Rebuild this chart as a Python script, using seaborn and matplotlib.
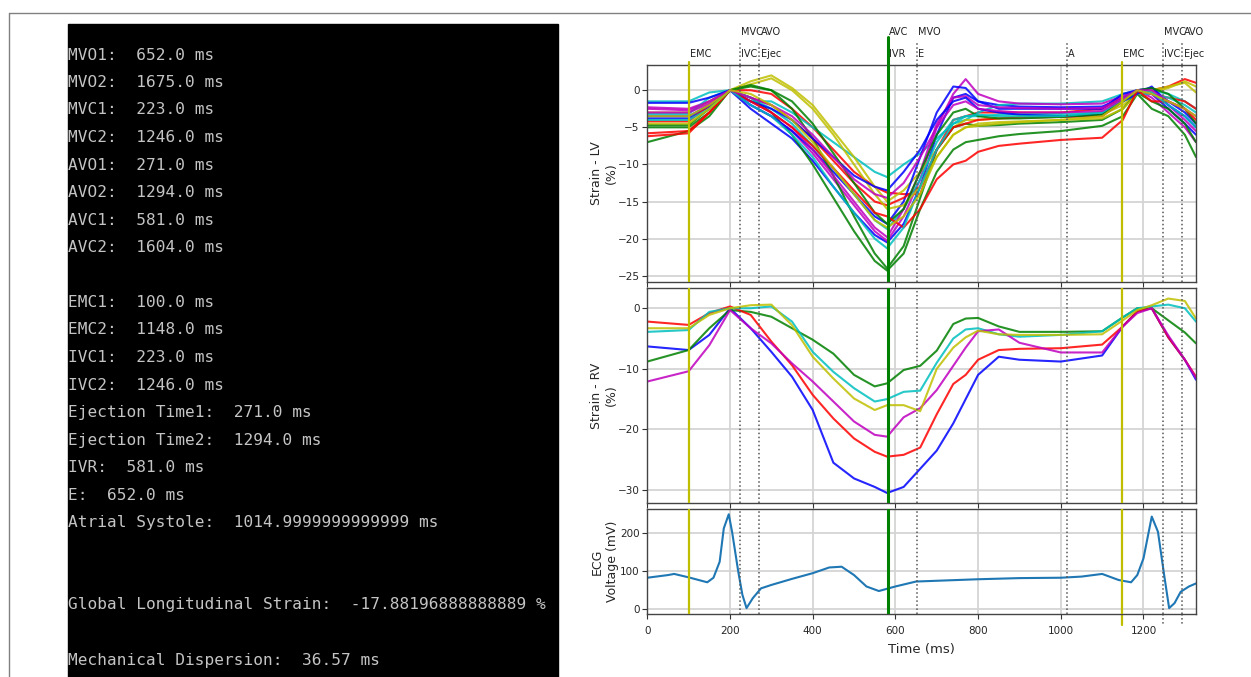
import pandas as pd
import seaborn as sns
import matplotlib.pyplot as plt
from matplotlib.lines import Line2D
from matplotlib.patches import Rectangle
import matplotlib.transforms as mtransforms

# Zeitpunkte der Strain-Kurven (ms)
t_strain = [0, 100, 150, 200, 250, 300, 350, 400, 450, 500, 550, 580, 620, 660,
            700, 740, 770, 800, 850, 900, 1000, 1100, 1150, 1185, 1220, 1260, 1300, 1327]

# LV-Segmente (%)
lv_b1 = [-3.8, -3.8, -2.2, 0, -2.5, -4.5, -6.5, -9.5, -13, -16.5, -19.5, -20.5, -18, -13,
         -6, -1, -0.5, -1.5, -2, -2.2, -2.3, -2.2, -1, 0, -0.5, -2.5, -4.5, -6]
lv_g1 = [-7, -5.5, -3.5, 0, -1, -3, -6, -10, -14.5, -19, -23, -24.3, -22, -16,
         -11, -8, -7, -6.7, -6.2, -5.9, -5.5, -4.8, -3.5, -0.5, -2.5, -3.5, -6, -9]
lv_r1 = [-4.2, -4.2, -2, 0, 0, -0.5, -2.5, -5, -8, -11, -13, -13.8, -14, -14,
         -8, -4, -3.5, -3, -3, -3, -3, -2.5, -1, 0, 0, 0.5, 1.5, 1]
lv_c1 = [-1.5, -1.5, -0.3, 0, -1.5, -1.5, -3, -5, -7, -9, -11, -11.7, -10, -8.5,
         -6.5, -4.5, -4, -3, -2, -1.8, -1.8, -1.5, -0.5, 0, 0, -0.5, -1.5, -2.5]
lv_m1 = [-2.3, -2.5, -1.5, 0, -2, -3.5, -5.5, -8.5, -12, -15.5, -19, -20.3, -17, -12,
         -5, -0.5, 1.5, -0.5, -1.5, -1.8, -1.9, -1.8, -0.8, 0, -1, -3, -5, -7]
lv_y1 = [-3, -3, -1.5, 0, 1.2, 2, 0.3, -2, -5.5, -9, -13, -15, -13.5, -11,
         -8, -5, -4, -4, -3.8, -3.5, -3.5, -3.3, -2, -0.5, -0.3, 0.3, 1.2, 0.5]
lv_b2 = [-3.5, -3.5, -2, 0, -2, -3.5, -5.5, -8, -11, -14, -17, -18, -15, -9,
         -3, 0.5, 0.3, -1.5, -2.5, -2.5, -2.5, -2.5, -0.5, 0, 0.3, -1.5, -3, -4.5]
lv_g2 = [-5, -5, -3, 0, 0.5, 0, -2.5, -6.5, -11.5, -17, -22, -24, -21, -14.5,
         -8, -5, -4.5, -4.8, -4.7, -4.5, -4.3, -4, -2.5, -0.3, -1.5, -2.5, -4.5, -7]
lv_r2 = [-5.8, -5.5, -3, 0, -1, -2, -4, -6.5, -9.5, -12.5, -15, -15.5, -14.5, -13,
         -8, -5, -4.5, -4, -3.8, -3.7, -3.6, -3.5, -1.5, 0, -0.5, -1, -1.5, -2.5]
lv_c2 = [-3.2, -3.2, -1, 0, -1, -2.5, -4.5, -7.5, -10.5, -14, -17.5, -18.7, -16, -12,
         -7, -4, -3.5, -3.5, -3.3, -3.2, -3.2, -3, -1.5, -0.5, -0.5, -1, -2, -3]
lv_m2 = [-3, -3, -1.8, 0, -1.5, -3, -5, -8, -11.5, -15, -18.5, -19.8, -16, -11,
         -4.5, -1, -0.8, -2, -2.3, -2.4, -2.5, -2.4, -1, 0, -0.5, -2, -4, -5.5]
lv_y2 = [-3.5, -3.5, -2, 0, 0.8, 1.6, 0, -2.5, -6, -10, -14, -16, -15.5, -13,
         -9, -6, -5, -4.5, -4.3, -4.2, -4, -3.8, -2.5, -0.5, 0, 0.5, 1, -0.3]
lv_b3 = [-1.7, -1.7, -1, 0, -1.5, -2.5, -4, -6.5, -9, -11.5, -13, -13.5, -11, -8,
         -4, -1.5, -1, -2.5, -3, -3.3, -3.5, -3.3, -1.5, -0.5, 0.5, -2, -3.5, -5]
lv_g3 = [-4.7, -4.7, -2.5, 0, 0.7, 0, -1.5, -4.5, -8.5, -12.5, -16.5, -18, -16, -11,
         -6, -3, -2.5, -3.5, -3.8, -3.8, -3.6, -3.3, -1.5, 0, 0.3, -0.5, -2.5, -4.5]
lv_r3 = [-6.2, -5.8, -3, 0, -1.5, -3, -5, -7.5, -10.5, -13.5, -16.5, -17, -18.5, -16,
         -12, -10, -9.5, -8.3, -7.5, -7.2, -6.7, -6.4, -4, 0, -1.5, -1.5, -2.5, -4]
lv_c3 = [-4, -4, -2.5, 0, -2, -3.5, -6, -9, -13, -16.5, -20, -21.3, -18.5, -13,
         -8, -4.5, -3.5, -3.3, -3.5, -3.5, -3.5, -3, -1.2, 0, -0.3, -2, -3.5, -5]
lv_m3 = [-2.5, -2.7, -1.5, 0, -1, -2, -3.5, -6, -9, -12, -14, -14.5, -12.5, -9,
         -5, -2, -1.5, -2.5, -2.8, -3, -3, -2.8, -1.2, 0, 0, -1.5, -2.5, -3.5]
lv_y3 = [-4.5, -4.5, -2.5, 0, -0.5, -2, -4, -7, -10.5, -14, -17.5, -18.5, -17, -14,
         -9, -6, -5, -4.8, -4.5, -4.3, -4, -3.5, -1.5, 0, -0.5, -1.5, -2.5, -3.5]

# RV-Segmente (%)
rv_b = [-6.3, -6.9, -4.4, 0, -3.3, -7.2, -11.3, -16.8, -25.5, -28.1, -29.5, -30.5, -29.5, -26.5,
        -23.5, -19, -15, -11, -8, -8.5, -8.8, -7.8, -3, -0.5, 0, -4.8, -8.5, -11.8]
rv_g = [-8.8, -6.9, -3.3, -0.3, -0.6, -1.4, -3.3, -5.2, -7.5, -11, -12.9, -12.4, -10.2, -9.5,
        -7, -2.6, -1.7, -1.6, -3, -3.9, -3.9, -3.8, -1.5, 0, 0, -2, -4, -5.8]
rv_r = [-2.2, -2.75, -0.8, 0.3, -1.1, -5.5, -9.4, -14.3, -18.2, -21.5, -23.7, -24.5, -24.2, -23,
        -17.5, -12.5, -11, -8.5, -6.9, -6.7, -6.6, -6, -3, -0.5, 0, -4.8, -8.5, -11.3]
rv_c = [-3.9, -3.6, -0.6, 0, 0, 0.3, -2.2, -7.2, -10.5, -13.2, -15.4, -15, -13.8, -13.6,
        -9, -5, -3.5, -3.3, -4.3, -4.7, -4.4, -3.8, -1.5, 0, 0.3, 0.6, 0, -2.2]
rv_m = [-12.1, -10.4, -6.1, -0.3, -3.3, -5.8, -9.1, -12.1, -15.4, -18.7, -20.9, -21.2, -18, -16.5,
        -13.5, -9.5, -6.5, -3.8, -3.5, -5.7, -7.3, -7.3, -3, -0.8, 0, -4.5, -8.5, -11.5]
rv_y = [-3.3, -3.3, -1.1, 0, 0.5, 0.6, -2.8, -8, -11.6, -14.9, -16.8, -16, -16, -17,
        -10, -6.5, -4.8, -3.7, -4.3, -4.4, -4.4, -4.3, -2, -0.3, 0.5, 1.6, 1.2, -1.7]

# EKG
t_ecg = [0, 50, 65, 100, 145, 160, 175, 185, 197, 205, 220, 230, 240, 255, 275, 300, 350, 400,
         440, 470, 500, 530, 560, 600, 650, 700, 800, 900, 1000, 1050, 1100, 1140, 1170, 1185,
         1200, 1220, 1235, 1250, 1262, 1275, 1290, 1310, 1327]
v_ecg = [83, 90, 93, 84, 71, 83, 125, 213, 250, 204, 99, 38, 3, 29, 55, 64, 80, 95,
         110, 112, 90, 60, 48, 60, 73, 75, 79, 82, 83, 86, 93, 77, 71, 90,
         134, 244, 204, 90, 3, 16, 46, 60, 68]

# Ereignisse (ms)
event_t = [100, 223, 271, 581, 652, 1015, 1148, 1246, 1294]
event_low = ['EMC', 'IVC', 'Ejec', 'IVR', 'E', 'A', 'EMC', 'IVC', 'Ejec']
event_high = ['', 'MVC', 'AVO', 'AVC', 'MVO', '', '', 'MVC', 'AVO']

terminal_lines = [
    'MVO1:  652.0 ms', 'MVO2:  1675.0 ms', 'MVC1:  223.0 ms', 'MVC2:  1246.0 ms',
    'AVO1:  271.0 ms', 'AVO2:  1294.0 ms', 'AVC1:  581.0 ms', 'AVC2:  1604.0 ms', '',
    'EMC1:  100.0 ms', 'EMC2:  1148.0 ms', 'IVC1:  223.0 ms', 'IVC2:  1246.0 ms',
    'Ejection Time1:  271.0 ms', 'Ejection Time2:  1294.0 ms', 'IVR:  581.0 ms',
    'E:  652.0 ms', 'Atrial Systole:  1014.9999999999999 ms', '', '',
    'Global Longitudinal Strain:  -17.88196888888889 %', '',
    'Mechanical Dispersion:  36.57 ms',
]

lv_curves = {'b1': lv_b1, 'g1': lv_g1, 'r1': lv_r1, 'c1': lv_c1, 'm1': lv_m1, 'y1': lv_y1,
             'b2': lv_b2, 'g2': lv_g2, 'r2': lv_r2, 'c2': lv_c2, 'm2': lv_m2, 'y2': lv_y2,
             'b3': lv_b3, 'g3': lv_g3, 'r3': lv_r3, 'c3': lv_c3, 'm3': lv_m3, 'y3': lv_y3}
rv_curves = {'b': rv_b, 'g': rv_g, 'r': rv_r, 'c': rv_c, 'm': rv_m, 'y': rv_y}


def long_table(curves):
    rows = [(k, t, v) for k, vals in curves.items() for t, v in zip(t_strain, vals)]
    return pd.DataFrame(rows, columns=['seg', 't', 'v'])


sns.set_style('ticks')
plt.rcParams['axes.unicode_minus'] = True

fig = plt.figure(figsize=(12.51, 6.77), dpi=100)

# Terminal-Ausgabe links
fig.add_artist(Rectangle((68.3 / 1251, 0), (558 - 68.3) / 1251, (677 - 24) / 677,
                         transform=fig.transFigure, color='black', zorder=0))
for i, line in enumerate(terminal_lines):
    fig.text(68.5 / 1251, 1 - (55 + 27.5 * i) / 677, line, family='DejaVu Sans Mono',
             fontsize=11.6, color='#c4c4c4', va='center', ha='left')

# Rahmen des Screenshots
fig.add_artist(Line2D([9 / 1251, 1], [1 - 13 / 677] * 2, color='#808080', lw=1))
fig.add_artist(Line2D([9 / 1251] * 2, [0, 1 - 13 / 677], color='#808080', lw=1))

left, width = 647.3 / 1251, 548.7 / 1251
ax_lv = fig.add_axes([left, 0.5839, width, 0.3201])
ax_rv = fig.add_axes([left, 0.2566, width, 0.3185], sharex=ax_lv)
ax_ecg = fig.add_axes([left, 0.0931, width, 0.1551], sharex=ax_lv)

pal = {k: k[0] for k in lv_curves}
sns.lineplot(data=long_table(lv_curves), x='t', y='v', hue='seg', palette=pal,
             legend=False, ax=ax_lv, lw=1.5, estimator=None, sort=False, alpha=0.85)
sns.lineplot(data=long_table(rv_curves), x='t', y='v', hue='seg',
             palette={k: k for k in rv_curves}, legend=False, ax=ax_rv, lw=1.5,
             estimator=None, sort=False, alpha=0.85)
sns.lineplot(x=t_ecg, y=v_ecg, ax=ax_ecg, color='#1f77b4', lw=1.5, estimator=None, sort=False)

ax_lv.set_ylim(-25.8, 3.4)
ax_lv.set_yticks([0, -5, -10, -15, -20, -25])
ax_rv.set_ylim(-32.2, 3.4)
ax_rv.set_yticks([0, -10, -20, -30])
ax_ecg.set_ylim(-12.4, 264)
ax_ecg.set_yticks([0, 100, 200])
ax_lv.set_xlim(0, 1327)
ax_ecg.set_xticks([0, 200, 400, 600, 800, 1000, 1200])

ax_lv.set_ylabel('Strain - LV\n(%)', fontsize=9, labelpad=0)
ax_rv.set_ylabel('Strain - RV\n(%)', fontsize=9, labelpad=0)
ax_ecg.set_ylabel('ECG\nVoltage (mV)', fontsize=9, labelpad=1)
ax_ecg.set_xlabel('Time (ms)', fontsize=9.5, labelpad=5)
ax_lv.set_xlabel('')
ax_rv.set_xlabel('')

for ax in (ax_lv, ax_rv, ax_ecg):
    ax.grid(True, color='#d4d4d4', lw=1.3)
    ax.set_axisbelow(True)
    ax.tick_params(labelsize=7.5, length=3.5, width=0.8, color='#333333', pad=2)
    for s in ax.spines.values():
        s.set_color('#444444')
        s.set_linewidth(1)
ax_lv.tick_params(labelbottom=False)
ax_rv.tick_params(labelbottom=False)
ax_ecg.tick_params(axis='x', pad=5)

# Ereignislinien
styles = {100: ('y', '-', 1.6), 1148: ('y', '-', 1.6), 581: ('g', '-', 2.2)}
for t in event_t:
    col, ls, lw = styles.get(t, ('#555555', ':', 1.1))
    for ax in (ax_lv, ax_rv, ax_ecg):
        ax.axvline(t, color=col, ls=ls, lw=lw, zorder=3)
    top = {100: 1.014, 1148: 1.014, 581: 1.129}.get(t, 1.106)
    tr = mtransforms.blended_transform_factory(ax_lv.transData, ax_lv.transAxes)
    ax_lv.plot([t, t], [1, top], color=col, ls=ls, lw=lw, transform=tr, clip_on=False)
    if t > 1100:
        tr2 = mtransforms.blended_transform_factory(ax_ecg.transData, ax_ecg.transAxes)
        ax_ecg.plot([t, t], [0, -0.105], color=col, ls=ls, lw=lw, transform=tr2, clip_on=False)

tr = mtransforms.blended_transform_factory(ax_lv.transData, ax_lv.transAxes)
for t, lo, hi in zip(event_t, event_low, event_high):
    ax_lv.text(t + 3, 1.051, lo, transform=tr, fontsize=7, ha='left', va='center', color='#222222')
    if hi:
        ax_lv.text(t + 3, 1.152, hi, transform=tr, fontsize=7, ha='left', va='center', color='#222222')

fig.savefig('out.png', dpi=100)
